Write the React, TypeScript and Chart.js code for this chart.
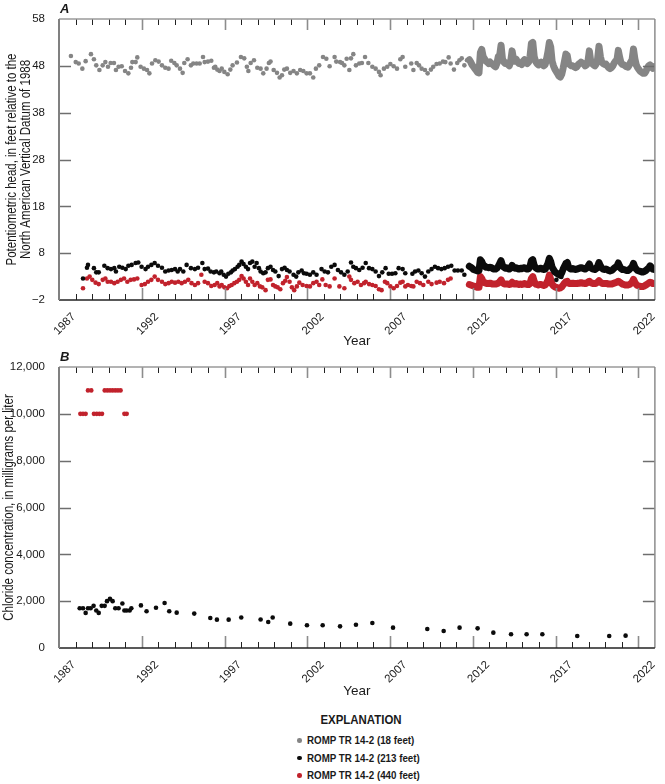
import React, { useEffect, useRef } from 'react';
import { Chart, registerables } from 'chart.js';

Chart.register(...registerables);

// ---------- axis labels / ticks ----------
const yearLabels = ['1987', '1992', '1997', '2002', '2007', '2012', '2017', '2022'];
const headTicks = [-2, 8, 18, 28, 38, 48, 58];
const chlorideTicks = [0, 2000, 4000, 6000, 8000, 10000, 12000];
const seriesNames = ['ROMP TR 14-2 (18 feet)', 'ROMP TR 14-2 (213 feet)', 'ROMP TR 14-2 (440 feet)'];
const headTitle = ['Potentiometric head, in feet relative to the', 'North American Vertical Datum of 1988'];
const chlorideTitle = ['Chloride concentration, in milligrams per liter'];

// ---------- Panel A: periodic measurements (decimal year, head in feet) ----------
const grayYears = [
  1987.72, 1988.01, 1988.19, 1988.41, 1988.61, 1988.93, 1989.11, 1989.25, 1989.44, 1989.64, 1989.80, 1989.96,
  1990.12, 1990.32, 1990.44, 1990.60, 1990.79, 1990.99, 1991.19, 1991.35, 1991.43, 1991.63, 1991.73, 1991.93,
  1992.13, 1992.32, 1992.46, 1992.62, 1992.82, 1993.02, 1993.22, 1993.42, 1993.62, 1993.78, 1993.97, 1994.11,
  1994.31, 1994.47, 1994.57, 1994.77, 1994.97, 1995.11, 1995.31, 1995.50, 1995.70, 1995.80, 1996.00, 1996.20,
  1996.36, 1996.44, 1996.56, 1996.70, 1996.83, 1996.99, 1997.19, 1997.35, 1997.49, 1997.75, 1997.99, 1998.19,
  1998.35, 1998.44, 1998.58, 1998.78, 1998.98, 1999.18, 1999.34, 1999.54, 1999.68, 1999.78, 1999.97, 2000.17,
  2000.33, 2000.47, 2000.61, 2000.77, 2000.97, 2001.17, 2001.37, 2001.57, 2001.76, 2001.96, 2002.16, 2002.36,
  2002.52, 2002.72, 2002.95, 2003.15, 2003.35, 2003.65, 2003.75, 2003.98, 2004.10, 2004.24, 2004.38, 2004.54,
  2004.64, 2004.78, 2004.94, 2005.14, 2005.30, 2005.49, 2005.69, 2005.93, 2006.13, 2006.33, 2006.43, 2006.63,
  2006.83, 2007.02, 2007.22, 2007.42, 2007.62, 2007.76, 2007.92, 2008.28, 2008.41, 2008.61, 2008.75, 2008.91,
  2009.11, 2009.27, 2009.47, 2009.61, 2009.81, 2010.00, 2010.20, 2010.34, 2010.54, 2010.66, 2010.86, 2011.06,
  2011.19, 2011.33, 2011.49, 2011.65,
];
const grayHead = [
  50.1, 48.8, 48.5, 47.4, 49.0, 50.5, 49.4, 48.1, 47.1, 48.1, 48.8, 47.8,
  48.6, 48.6, 47.1, 47.8, 47.9, 46.9, 46.4, 47.6, 48.8, 48.8, 49.8, 47.8,
  47.4, 47.1, 46.4, 48.5, 49.2, 48.9, 48.1, 47.6, 47.4, 49.1, 48.6, 48.1,
  47.4, 46.5, 48.6, 49.4, 48.1, 48.5, 48.5, 48.5, 49.9, 48.8, 48.9, 49.1,
  47.6, 47.8, 47.2, 46.9, 47.4, 46.7, 46.2, 47.2, 48.1, 48.7, 49.9, 49.6,
  47.8, 46.9, 48.6, 49.2, 47.6, 47.4, 46.4, 47.4, 48.6, 48.9, 47.1, 46.5,
  45.5, 46.0, 47.2, 47.4, 46.5, 46.9, 46.4, 47.1, 46.9, 46.4, 46.4, 45.5,
  47.4, 48.1, 49.9, 49.5, 47.9, 49.9, 48.9, 48.8, 48.6, 48.1, 49.5, 47.1,
  49.6, 50.5, 48.1, 48.5, 48.6, 49.9, 48.6, 47.8, 47.4, 46.7, 46.0, 47.4,
  47.8, 48.4, 47.9, 47.4, 49.4, 49.9, 47.8, 48.5, 47.1, 48.6, 48.1, 47.4,
  47.1, 46.4, 47.2, 47.8, 48.4, 48.5, 48.9, 48.8, 49.8, 48.5, 47.2, 48.6,
  49.2, 49.6, 48.1, 49.2,
];

const blackYears = [
  1988.45, 1988.69, 1988.75, 1989.11, 1989.25, 1989.40, 1989.74, 1989.94, 1990.14, 1990.34, 1990.44, 1990.64,
  1990.83, 1991.03, 1991.19, 1991.39, 1991.63, 1991.79, 1991.99, 1992.23, 1992.38, 1992.58, 1992.78, 1992.98,
  1993.22, 1993.42, 1993.62, 1993.81, 1994.01, 1994.17, 1994.31, 1994.51, 1994.71, 1994.97, 1995.21, 1995.40,
  1995.66, 1995.80, 1996.00, 1996.16, 1996.36, 1996.50, 1996.70, 1996.80, 1996.95, 1997.09, 1997.23, 1997.39,
  1997.49, 1997.63, 1997.79, 1997.89, 1998.03, 1998.15, 1998.29, 1998.42, 1998.54, 1998.68, 1998.82, 1998.94,
  1999.08, 1999.18, 1999.34, 1999.48, 1999.62, 1999.78, 1999.93, 2000.07, 2000.27, 2000.47, 2000.63, 2000.77,
  2000.93, 2001.17, 2001.33, 2001.46, 2001.66, 2001.80, 2001.96, 2002.16, 2002.36, 2002.56, 2002.86, 2003.05,
  2003.25, 2003.45, 2003.65, 2003.85, 2004.04, 2004.24, 2004.44, 2004.64, 2004.78, 2004.94, 2005.14, 2005.34,
  2005.53, 2005.73, 2005.93, 2006.13, 2006.33, 2006.53, 2006.73, 2006.92, 2007.12, 2007.32, 2007.52, 2007.76,
  2007.92, 2008.35, 2008.51, 2008.71, 2008.91, 2009.11, 2009.31, 2009.51, 2009.71, 2009.90, 2010.10, 2010.30,
  2010.50, 2010.70, 2010.90, 2011.10, 2011.33, 2011.49, 2017.05, 2017.35,
];
const blackHead = [
  2.6, 4.9, 5.5, 4.8, 3.9, 3.9, 5.3, 4.8, 4.6, 4.8, 4.1, 5.1,
  4.9, 4.6, 5.3, 5.5, 5.9, 6.0, 5.1, 4.6, 5.1, 5.5, 5.9, 5.3,
  4.9, 4.1, 4.3, 4.4, 4.6, 4.1, 4.6, 4.1, 5.5, 4.8, 4.6, 4.9,
  5.9, 4.6, 4.7, 4.1, 3.9, 4.1, 3.7, 4.1, 3.4, 3.0, 3.6, 3.9,
  4.3, 4.6, 5.1, 5.5, 6.2, 5.7, 5.1, 4.6, 5.9, 6.2, 5.1, 5.9,
  4.8, 4.1, 3.7, 3.9, 4.8, 5.1, 4.4, 4.1, 3.1, 4.6, 4.9, 4.4,
  4.1, 3.4, 3.0, 3.9, 4.3, 3.7, 3.6, 3.4, 3.9, 3.4, 4.6, 4.1,
  3.9, 5.1, 5.5, 4.4, 3.9, 3.4, 4.1, 6.0, 5.1, 4.8, 4.4, 4.9,
  5.9, 4.8, 4.6, 4.1, 3.1, 3.9, 4.8, 3.6, 3.6, 3.7, 4.8, 4.6,
  3.7, 3.6, 4.1, 4.3, 3.7, 3.0, 4.1, 4.6, 5.1, 4.8, 4.6, 4.8,
  5.1, 5.3, 4.3, 4.3, 4.3, 3.4, 2.3, 2.9,
];

const redYears = [
  1988.45, 1988.69, 1988.85, 1989.01, 1989.21, 1989.40, 1989.64, 1989.80, 1989.94, 1990.14, 1990.34, 1990.54,
  1990.74, 1990.93, 1991.13, 1991.33, 1991.53, 1991.73, 1991.99, 1992.19, 1992.38, 1992.58, 1992.78, 1992.98,
  1993.22, 1993.42, 1993.62, 1993.81, 1994.01, 1994.21, 1994.41, 1994.61, 1994.81, 1995.01, 1995.21, 1995.40,
  1995.60, 1995.80, 1996.00, 1996.20, 1996.40, 1996.56, 1996.70, 1996.83, 1996.99, 1997.15, 1997.29, 1997.43,
  1997.59, 1997.75, 1997.89, 1998.03, 1998.15, 1998.29, 1998.42, 1998.54, 1998.68, 1998.82, 1998.98, 1999.14,
  1999.28, 1999.48, 1999.62, 1999.78, 1999.93, 2000.07, 2000.21, 2000.37, 2000.53, 2000.67, 2000.77, 2000.93,
  2001.07, 2001.21, 2001.37, 2001.52, 2001.72, 2001.96, 2002.16, 2002.36, 2002.56, 2002.72, 2002.91, 2003.11,
  2003.35, 2003.65, 2003.94, 2004.24, 2004.54, 2004.64, 2004.84, 2005.04, 2005.24, 2005.43, 2005.53, 2005.73,
  2005.93, 2006.13, 2006.33, 2006.49, 2006.69, 2006.83, 2007.02, 2007.22, 2007.42, 2007.62, 2007.76, 2007.92,
  2008.08, 2008.28, 2008.41, 2008.61, 2008.81, 2009.01, 2009.31, 2009.51, 2009.81, 2010.00, 2010.26, 2010.50,
  2010.66,
];
const redHead = [
  0.5, 2.6, 3.0, 2.3, 1.7, 1.4, 2.3, 2.6, 1.9, 1.9, 1.6, 1.9,
  2.3, 2.6, 1.9, 2.3, 2.4, 2.6, 1.2, 1.4, 1.9, 2.3, 3.0, 2.3,
  1.9, 1.4, 1.6, 1.9, 1.7, 1.9, 1.6, 1.9, 2.3, 1.6, 1.2, 1.6,
  3.4, 1.9, 1.6, 1.0, 1.2, 1.6, 0.9, 1.2, 0.7, 0.5, 1.0, 1.2,
  1.6, 1.9, 2.3, 3.1, 2.6, 1.9, 1.2, 2.6, 1.9, 1.2, 1.6, 0.9,
  0.7, 0.1, 2.3, 2.4, 1.2, 0.9, 0.7, 0.3, 1.6, 2.1, 2.9, 1.9,
  0.7, 0.1, 0.9, 1.7, 1.2, 1.0, 0.9, 1.6, 1.9, 1.2, 2.4, 1.2,
  0.9, 2.6, 0.9, 0.5, 3.0, 2.3, 1.6, 1.9, 1.2, 1.6, 1.9, 1.4,
  1.2, 1.0, 0.3, 0.1, 1.9, 1.6, 0.9, 0.5, 1.0, 1.7, 1.9, 0.9,
  1.2, 1.0, 0.9, 1.9, 1.6, 1.2, 1.9, 1.4, 1.7, 1.9, 1.6, 2.3,
  2.6,
];

// ---------- Panel A: continuous record, monthly means Oct 2011 - Dec 2022 ----------
const continuousStartYear = 2011.79; // mid-October 2011
const grayContinuous = [
  49.3, 48.8, 48.2,
  47.8, 47.4, 47.0, 46.6, 46.5, 50.8, 51.5, 50.0, 49.5, 49.0, 48.8, 48.5,
  48.8, 48.5, 48.3, 48.0, 47.8, 48.5, 50.0, 50.2, 52.4, 49.5, 48.8, 48.5,
  48.6, 48.3, 48.0, 49.0, 51.2, 49.5, 49.0, 49.4, 48.8, 48.5, 48.6, 48.3,
  49.0, 49.3, 48.8, 48.5, 48.8, 50.0, 52.8, 53.0, 50.0, 49.0, 48.5, 48.2,
  48.6, 48.8, 48.2, 48.0, 48.3, 49.5, 51.0, 53.0, 52.0, 49.0, 48.0, 47.3,
  46.8, 46.3, 45.8, 45.6, 46.2, 47.5, 49.0, 50.5, 50.2, 48.5, 48.2, 48.0,
  48.0, 47.8, 47.6, 47.8, 48.3, 48.5, 48.8, 48.6, 48.4, 48.0, 48.2, 49.0,
  51.2, 49.0, 48.5, 48.2, 48.0, 48.4, 49.5, 52.2, 50.0, 48.8, 48.5, 48.3,
  48.4, 48.0, 47.6, 47.4, 47.6, 48.0, 48.6, 49.0, 49.2, 51.3, 49.8, 48.6,
  48.3, 48.2, 48.0, 47.8, 47.7, 48.2, 48.8, 49.3, 51.6, 49.5, 48.2, 47.6,
  47.2, 46.8, 46.6, 46.4, 46.4, 46.8, 47.5, 48.0, 48.2, 47.8, 47.5, 47.8,
];
const blackContinuous = [
  5.2, 5.0, 4.8,
  4.5, 4.4, 4.3, 4.2, 4.3, 6.6, 6.2, 5.5, 5.3, 5.0, 5.0, 4.9,
  5.0, 4.9, 4.7, 4.6, 4.6, 4.8, 5.2, 5.8, 6.4, 5.4, 5.0, 4.8,
  4.9, 4.7, 4.6, 4.8, 5.4, 5.0, 4.8, 4.9, 4.7, 4.6, 4.8, 4.7,
  4.8, 4.9, 4.7, 4.6, 4.7, 5.2, 6.4, 6.6, 5.4, 4.9, 4.7, 4.6,
  4.7, 4.8, 4.6, 4.5, 4.6, 5.2, 5.8, 6.9, 6.2, 5.0, 4.5, 4.0,
  3.8, 3.6, 3.4, 3.3, 3.8, 4.6, 5.2, 5.8, 6.0, 5.0, 4.7, 4.6,
  4.7, 4.6, 4.5, 4.6, 4.7, 4.8, 4.9, 4.8, 4.7, 4.6, 4.8, 5.2,
  5.7, 4.9, 4.7, 4.6, 4.5, 4.7, 5.2, 6.0, 5.3, 4.8, 4.6, 4.5,
  4.6, 4.5, 4.3, 4.2, 4.3, 4.5, 4.8, 5.0, 5.2, 5.9, 5.2, 4.7,
  4.5, 4.5, 4.4, 4.3, 4.3, 4.5, 4.8, 5.1, 5.8, 5.0, 4.6, 4.3,
  4.2, 4.1, 4.0, 4.0, 4.1, 4.3, 4.6, 4.8, 5.3, 5.0, 4.6, 4.5,
];
const redContinuous = [
  1.3, 1.2, 1.1,
  1.0, 0.9, 0.8, 0.7, 0.7, 3.0, 2.6, 1.9, 1.7, 1.6, 1.5, 1.5,
  1.6, 1.5, 1.4, 1.4, 1.4, 1.5, 1.6, 1.9, 2.3, 1.7, 1.5, 1.4,
  1.4, 1.4, 1.3, 1.4, 1.8, 1.5, 1.4, 1.5, 1.4, 1.3, 1.4, 1.3,
  1.4, 1.5, 1.4, 1.3, 1.3, 1.5, 2.6, 3.0, 2.0, 1.4, 1.3, 1.2,
  1.3, 1.3, 1.2, 1.1, 1.2, 1.6, 2.2, 3.3, 2.4, 1.4, 1.0, 0.8,
  0.7, 0.6, 0.5, 0.6, 0.8, 1.2, 1.6, 1.9, 2.0, 1.6, 1.5, 1.5,
  1.6, 1.5, 1.5, 1.5, 1.6, 1.6, 1.7, 1.6, 1.6, 1.5, 1.6, 1.8,
  2.0, 1.7, 1.6, 1.5, 1.5, 1.6, 1.8, 2.1, 1.8, 1.6, 1.5, 1.5,
  1.5, 1.5, 1.4, 1.4, 1.4, 1.5, 1.6, 1.7, 1.8, 2.0, 1.8, 1.6,
  1.4, 1.3, 1.2, 1.2, 1.2, 1.3, 1.5, 1.8, 2.4, 1.8, 1.3, 1.1,
  1.0, 0.9, 0.9, 0.9, 1.0, 1.2, 1.4, 1.6, 1.8, 1.7, 1.5, 1.5,
];

// ---------- Panel B: chloride (decimal year, mg/L) ----------
const chloride213Years = [
  1988.25, 1988.45, 1988.61, 1988.75, 1988.91, 1989.09, 1989.25, 1989.40, 1989.58, 1989.76, 1989.90, 1990.08,
  1990.24, 1990.40, 1990.60, 1990.83, 1990.95, 1991.09, 1991.27, 1991.37, 1991.95, 1992.29, 1992.86, 1993.38,
  1993.66, 1994.11, 1995.17, 1996.14, 1996.54, 1997.25, 1998.01, 1999.18, 1999.64, 1999.91, 2000.97, 2001.98,
  2002.93, 2003.98, 2004.94, 2005.93, 2007.18, 2009.25, 2010.24, 2011.20, 2012.29, 2013.24, 2014.31, 2015.25,
  2016.20, 2018.31, 2020.24, 2021.23,
];
const chloride213 = [
  1700, 1700, 1500, 1700, 1700, 1800, 1600, 1500, 1800, 1800, 2000, 2100,
  2000, 1700, 1700, 1900, 1600, 1600, 1600, 1700, 1820, 1570, 1720, 1920,
  1570, 1510, 1470, 1280, 1210, 1210, 1300, 1220, 1110, 1300, 1040, 970,
  970, 925, 996, 1067, 868, 811, 726, 868, 840, 655, 584, 584,
  584, 512, 512, 527,
];
const chloride440Years = [
  1988.29, 1988.45, 1988.61, 1988.75, 1988.95, 1989.11, 1989.28, 1989.44, 1989.60, 1989.76, 1989.92,
  1990.08, 1990.24, 1990.40, 1990.56, 1990.72, 1990.95, 1991.09,
];
const chloride440 = [
  10000, 10000, 10000, 11000, 11000, 10000, 10000, 10000, 10000, 11000, 11000,
  11000, 11000, 11000, 11000, 11000, 10000, 10000,
];

// ---------- styling ----------
const GRAY = '#858585';
const BLACK = '#0b0b0b';
const RED = '#c1222c';
const FONT = "'Liberation Sans', Arial, sans-serif";
const TEXT = '#1a1a1a';

const pairs = (xs: number[], ys: number[]) => xs.map((x, i) => ({ x, y: ys[i] }));
const monthly = (vals: number[]) => vals.map((y, i) => ({ x: continuousStartYear + i / 12, y }));

const framePlugin = {
  id: 'usgsFrame',
  afterDatasetsDraw(chart: any) {
    const { ctx, chartArea } = chart;
    const { left, right, top, bottom } = chartArea;
    const xs = chart.scales.x;
    const ys = chart.scales.y;
    const line = (x1: number, y1: number, x2: number, y2: number, color: string, w: number) => {
      ctx.beginPath();
      ctx.strokeStyle = color;
      ctx.lineWidth = w;
      ctx.moveTo(x1, y1);
      ctx.lineTo(x2, y2);
      ctx.stroke();
    };
    ctx.save();
    for (let yr = Math.ceil(xs.min); yr <= Math.floor(xs.max); yr++) {
      const px = Math.round(xs.getPixelForValue(yr)) + 0.5;
      const major = yearLabels.includes(String(yr));
      if (px <= left + 1 || px >= right - 1) continue;
      line(px, bottom, px, bottom - (major ? 12 : 6), major ? '#8c8c8c' : '#222', major ? 1.6 : 1);
      line(px, top, px, top + (major ? 11 : 6), major ? '#8c8c8c' : '#222', major ? 1.6 : 1);
    }
    ys.ticks.forEach((t: any) => {
      const py = Math.round(ys.getPixelForValue(t.value)) + 0.5;
      if (py <= top + 1 || py >= bottom - 1) return;
      line(left, py, left + 12, py, '#6e6e6e', 1.5);
      line(right, py, right - 12, py, '#6e6e6e', 1.5);
    });
    line(left, top, right, top, '#9a9a9a', 1.5);
    line(right, top, right, bottom, '#8c8c8c', 1.5);
    line(left, bottom, right, bottom, '#222', 1.5);
    line(left, top, left, bottom, '#808080', 2);
    ctx.restore();
  },
};

// condensed, rotated y-axis title (the original uses a condensed typeface)
const makeTitlePlugin = (lines: string[], xs: number[]) => ({
  id: 'condensedYTitle',
  afterDraw(chart: any) {
    const { ctx, chartArea } = chart;
    const cy = (chartArea.top + chartArea.bottom) / 2;
    ctx.save();
    ctx.fillStyle = TEXT;
    ctx.font = `14px ${FONT}`;
    ctx.textAlign = 'center';
    ctx.textBaseline = 'middle';
    lines.forEach((text, i) => {
      ctx.save();
      ctx.translate(xs[i], cy);
      ctx.rotate(-Math.PI / 2);
      ctx.scale(0.82, 1);
      ctx.fillText(text, 0, 0);
      ctx.restore();
    });
    ctx.restore();
  },
});

const xAxis = (height: number) => ({
  type: 'linear',
  min: 1987,
  max: 2023,
  grid: { display: false },
  border: { display: false },
  afterBuildTicks: (s: any) => {
    s.ticks = yearLabels.map((l) => ({ value: Number(l) + 0.9 }));
  },
  afterFit: (s: any) => {
    s.height = height;
  },
  ticks: {
    autoSkip: false,
    minRotation: 45,
    maxRotation: 45,
    padding: 2,
    color: TEXT,
    font: { family: FONT, size: 11.5 },
    callback: (_v: any, i: number) => yearLabels[i],
  },
  title: {
    display: true,
    text: 'Year',
    color: TEXT,
    font: { family: FONT, size: 13.5 },
    padding: { top: 0, bottom: 1 },
  },
});

const yAxis = (min: number, max: number, tickVals: number[], fmt: (v: number) => string) => ({
  type: 'linear',
  min,
  max,
  grid: { display: false },
  border: { display: false },
  afterBuildTicks: (s: any) => {
    s.ticks = tickVals.map((v) => ({ value: v }));
  },
  afterFit: (s: any) => {
    s.width = 59;
  },
  ticks: {
    padding: 6,
    color: TEXT,
    font: { family: FONT, size: 11.5 },
    callback: (v: any) => fmt(Number(v)),
  },
  title: { display: false },
});

const dot = (label: string, data: any[], color: string) => ({
  label,
  data,
  backgroundColor: color,
  borderColor: color,
  borderWidth: 0,
  pointRadius: 2.3,
  showLine: false,
});

const band = (label: string, data: any[], color: string, width: number) => ({
  label,
  data,
  borderColor: color,
  backgroundColor: color,
  borderWidth: width,
  pointRadius: 0,
  showLine: true,
  tension: 0,
  borderJoinStyle: 'round',
  borderCapStyle: 'round',
});

const minusFmt = (v: number) => (v < 0 ? '\u2212' + Math.abs(v) : String(v));
const commaFmt = (v: number) => v.toLocaleString('en-US');

function HeadChart() {
  const ref = useRef<HTMLCanvasElement>(null);
  useEffect(() => {
    const chart = new Chart(ref.current as HTMLCanvasElement, {
      type: 'scatter',
      data: {
        datasets: [
          dot(seriesNames[0], pairs(grayYears, grayHead), GRAY),
          band(seriesNames[0] + ' continuous', monthly(grayContinuous), GRAY, 7),
          dot(seriesNames[1], pairs(blackYears, blackHead), BLACK),
          band(seriesNames[1] + ' continuous', monthly(blackContinuous), BLACK, 7),
          dot(seriesNames[2], pairs(redYears, redHead), RED),
          band(seriesNames[2] + ' continuous', monthly(redContinuous), RED, 7),
        ] as any,
      },
      options: {
        animation: false,
        responsive: false,
        layout: { padding: { top: 19, right: 1.5, left: 0, bottom: 0 } },
        plugins: { legend: { display: false }, tooltip: { enabled: false } },
        scales: {
          x: xAxis(50) as any,
          y: yAxis(-2, 58, headTicks, minusFmt) as any,
        },
      },
      plugins: [framePlugin, makeTitlePlugin(headTitle, [12, 26])],
    });
    return () => chart.destroy();
  }, []);
  return <canvas ref={ref} width={665} height={350} style={{ display: 'block', width: 665, height: 350 }} />;
}

function ChlorideChart() {
  const ref = useRef<HTMLCanvasElement>(null);
  useEffect(() => {
    const chart = new Chart(ref.current as HTMLCanvasElement, {
      type: 'scatter',
      data: {
        datasets: [
          dot(seriesNames[1], pairs(chloride213Years, chloride213), BLACK),
          dot(seriesNames[2], pairs(chloride440Years, chloride440), RED),
        ] as any,
      },
      options: {
        animation: false,
        responsive: false,
        layout: { padding: { top: 17, right: 1.5, left: 0, bottom: 0 } },
        plugins: { legend: { display: false }, tooltip: { enabled: false } },
        scales: {
          x: xAxis(52) as any,
          y: yAxis(0, 12000, chlorideTicks, commaFmt) as any,
        },
      },
      plugins: [framePlugin, makeTitlePlugin(chlorideTitle, [9.5])],
    });
    return () => chart.destroy();
  }, []);
  return <canvas ref={ref} width={665} height={350} style={{ display: 'block', width: 665, height: 350 }} />;
}

const panelLetter = (top: number): React.CSSProperties => ({
  position: 'absolute',
  left: 60,
  top,
  fontFamily: FONT,
  fontWeight: 'bold',
  fontStyle: 'italic',
  fontSize: 13,
  lineHeight: '14px',
  color: TEXT,
});

const legendColors = [GRAY, BLACK, RED];

export default function App() {
  return (
    <div style={{ position: 'absolute', left: 0, top: 0, width: 665, height: 784, background: '#fff' }}>
      <div style={{ position: 'absolute', left: 0, top: 0 }}>
        <HeadChart />
      </div>
      <div style={{ position: 'absolute', left: 0, top: 350 }}>
        <ChlorideChart />
      </div>
      <div style={panelLetter(2)}>A</div>
      <div style={panelLetter(350)}>B</div>
      <div
        style={{
          position: 'absolute',
          left: 261,
          width: 200,
          top: 712,
          textAlign: 'center',
          fontFamily: FONT,
          fontWeight: 'bold',
          fontSize: 13,
          lineHeight: '16px',
          color: TEXT,
          transform: 'scaleX(0.88)',
          transformOrigin: '100px 0',
        }}
      >
        EXPLANATION
      </div>
      {seriesNames.map((name, i) => (
        <div key={name}>
          <div
            style={{
              position: 'absolute',
              left: 297,
              top: 738 + i * 17.5,
              width: 4.5,
              height: 4.5,
              borderRadius: '50%',
              background: legendColors[i],
            }}
          />
          <div
            style={{
              position: 'absolute',
              left: 307,
              top: 733 + i * 17.5,
              fontFamily: FONT,
              fontWeight: 'bold',
              fontSize: 11.5,
              lineHeight: '14px',
              whiteSpace: 'nowrap',
              color: TEXT,
              transform: 'scaleX(0.85)',
              transformOrigin: '0 0',
            }}
          >
            {name}
          </div>
        </div>
      ))}
    </div>
  );
}
